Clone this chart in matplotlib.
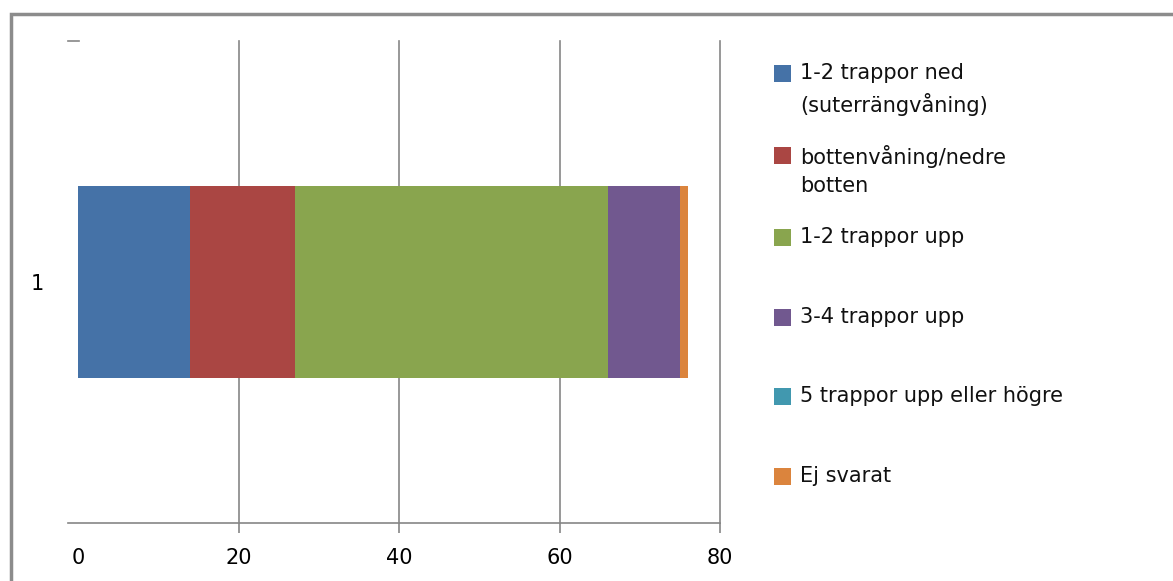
import matplotlib.pyplot as plt
from matplotlib.patches import Rectangle
from matplotlib.lines import Line2D

plt.rcParams['font.family'] = ['DejaVu Sans']

categories = ['1']
series_labels = [
    '1-2 trappor ned\n(suterrängvåning)',
    'bottenvåning/nedre\nbotten',
    '1-2 trappor upp',
    '3-4 trappor upp',
    '5 trappor upp eller högre',
    'Ej svarat',
]
series_values = [14, 13, 39, 9, 0, 1]
colors = ['#4572A7', '#AA4643', '#89A54E', '#71588F', '#4198AF', '#DB843D']
x_ticks = [0, 20, 40, 60, 80]

W, H = 1173, 581
fig = plt.figure(figsize=(W / 100, H / 100), dpi=100)

# plot area in pixels
left, right, top, bottom = 68, 720, 41, 523
ax = fig.add_axes([left / W, 1 - bottom / H, (right - left) / W, (bottom - top) / H])

start = 0
for val, col, lab in zip(series_values, colors, series_labels):
    ax.barh(1, val, left=start, height=0.4, color=col, label=lab, zorder=3)
    start += val

ax.set_xlim(-1.25, 80)
ax.set_ylim(0.5, 1.5)
ax.set_xticks(x_ticks)
ax.set_yticks([1])
ax.set_yticklabels(categories)

grey = '#868686'
ax.grid(axis='x', color=grey, linewidth=1.2, zorder=0)
for s in ['top', 'right', 'left']:
    ax.spines[s].set_visible(False)
ax.spines['bottom'].set_color(grey)
ax.spines['bottom'].set_linewidth(1.2)
ax.tick_params(axis='x', length=7, width=1.2, color=grey, pad=11, labelsize=15)
ax.tick_params(axis='y', length=0, pad=17, labelsize=15)
for t in ax.xaxis.get_major_ticks():
    t.gridline.set_clip_on(False)
first = ax.xaxis.get_major_ticks()[0]
first.tick1line.set_visible(False)
first.gridline.set_visible(False)

# small stub at the top of the value axis
fig.add_artist(Line2D([left / W, 79 / W], [1 - top / H, 1 - top / H],
                      color=grey, linewidth=1.2))

# legend drawn by hand so markers sit next to the first text line
leg_y = [74, 156, 238, 318, 397, 477]
for lab, col, y in zip(series_labels, colors, leg_y):
    fig.add_artist(Rectangle((774 / W, 1 - (y + 8) / H), 17 / W, 17 / H,
                             transform=fig.transFigure, facecolor=col, edgecolor='none'))
    fig.text(800 / W, 1 - (y - 11) / H, lab, fontsize=15, va='top', ha='left',
             linespacing=1.5, color='#111111')

# chart area border (cropped on right and bottom)
fig.add_artist(Rectangle((11 / W, -0.1), 1.2, 1 - 14 / H + 0.1,
                         transform=fig.transFigure, fill=False,
                         edgecolor='#8c8c8c', linewidth=2.5))

fig.savefig('out.png', dpi=100)
